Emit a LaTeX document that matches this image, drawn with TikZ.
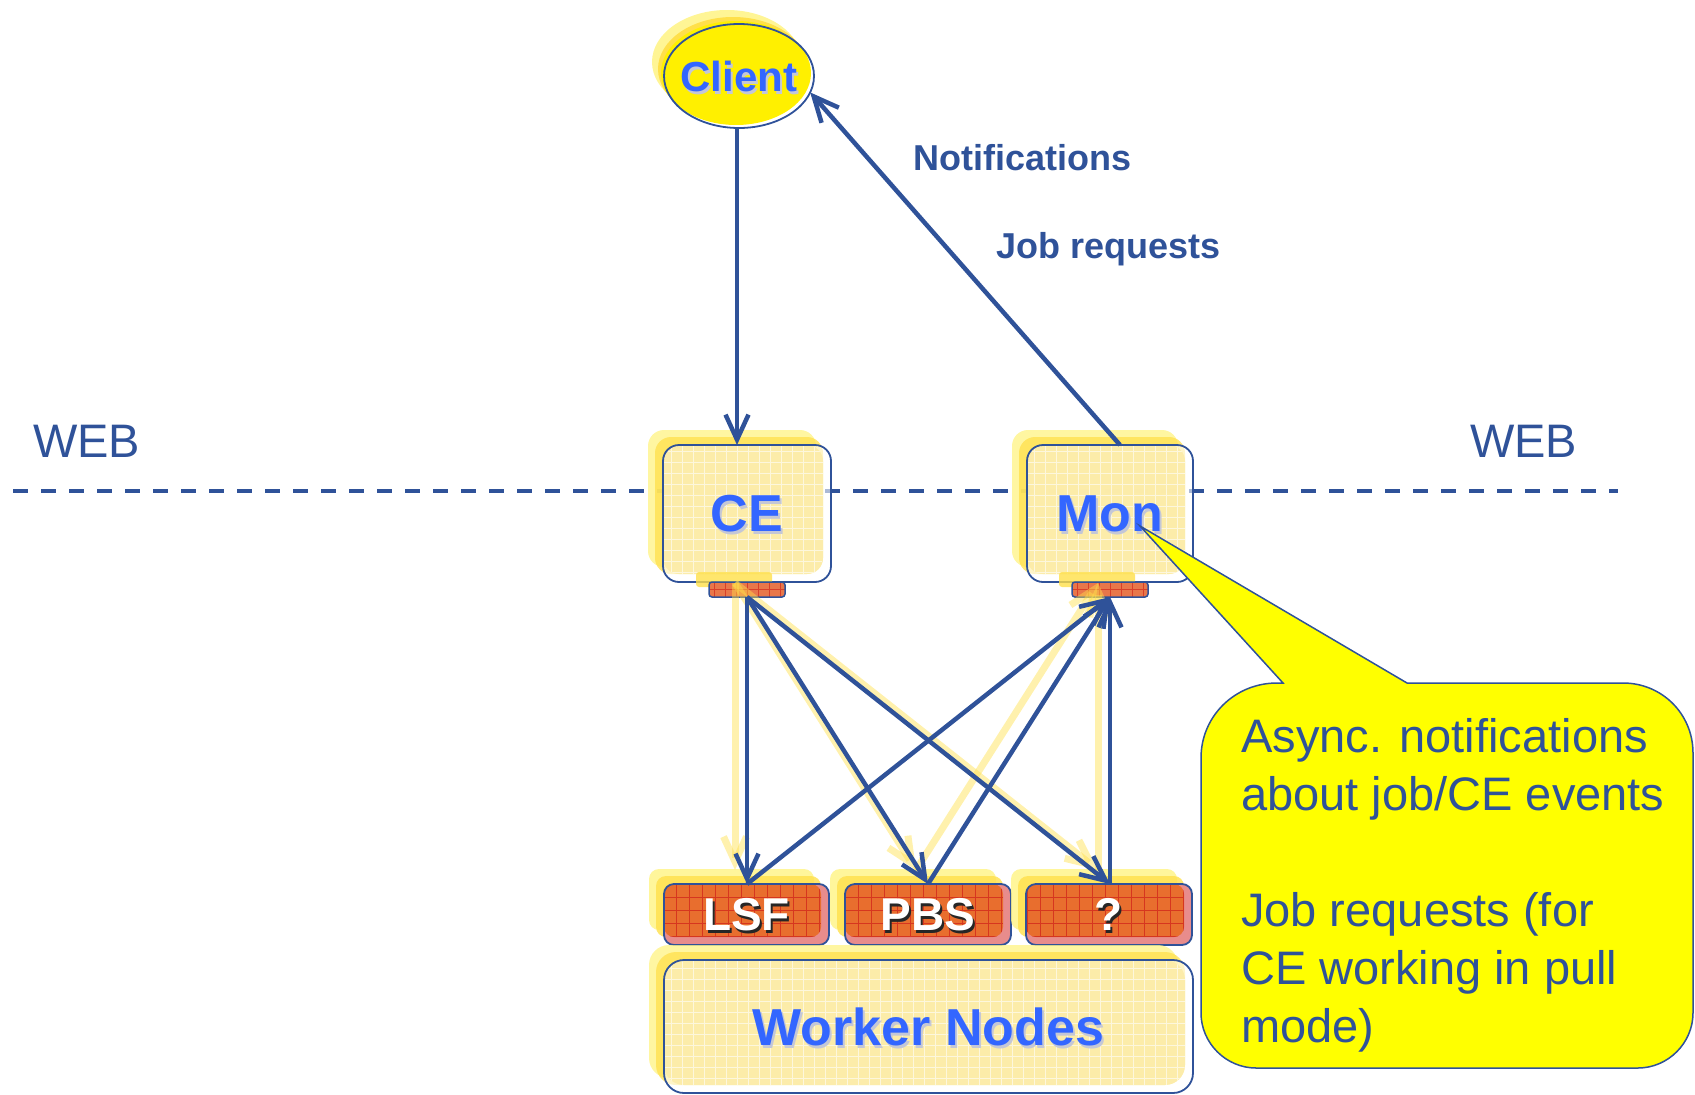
\documentclass[tikz,border=0pt]{standalone}
\usepackage{fontspec}
\setmainfont{Liberation Sans}
\usetikzlibrary{arrows.meta,calc,shapes.geometric}

\definecolor{navy}{HTML}{2F5299}
\definecolor{brightblue}{HTML}{3366FF}
\definecolor{halo}{HTML}{FFF48A}
\definecolor{glow}{HTML}{FFE04A}
\definecolor{pale}{HTML}{FCEBA6}
\definecolor{brick}{HTML}{E86E2E}
\definecolor{brickgrid}{HTML}{D2281C}
\definecolor{brickgap}{HTML}{E88C8C}
\definecolor{calloutfill}{HTML}{FFFF00}
\definecolor{sunny}{HTML}{FFF000}
\definecolor{txtshade}{HTML}{C4C7D6}

\tikzset{
  % layered "glowing" boxes
  pale halo/.style={fill=halo, opacity=.8},
  pale glow/.style={fill=glow, opacity=.75},
  pale gap/.style={fill=white, opacity=.6},
  pale body/.style={fill=pale, opacity=.85,
    path picture={\draw[white, line width=.7pt, opacity=.6]
      (path picture bounding box.south west) grid[step=11pt] (path picture bounding box.north east);}},
  pale frame/.style={draw=navy, line width=1.8pt, inner sep=0pt, outer sep=0pt,
    text=brightblue, font=\fontsize{52}{60}\selectfont\bfseries},
  brick halo/.style={fill=halo, opacity=.85},
  brick glow/.style={fill=glow, opacity=.8},
  brick gap/.style={fill=brickgap},
  brick body/.style={fill=brick,
    path picture={\draw[brickgrid, line width=.8pt, opacity=.8]
      (path picture bounding box.south west) grid[step=13pt] (path picture bounding box.north east);}},
  brick frame/.style={draw=navy, line width=1.8pt, inner sep=0pt, outer sep=0pt,
    text=white, font=\fontsize{46}{54}\selectfont\bfseries},
  pale shade/.style={text=txtshade, font=\fontsize{52}{60}\selectfont\bfseries, inner sep=0pt},
  brick shade/.style={text=black!85, font=\fontsize{46}{54}\selectfont\bfseries, inner sep=0pt},
  % connectors
  flow/.style={draw=navy, line width=4.5pt, -{Straight Barb[length=25pt,width=23pt]}},
  ghost/.style={draw=glow, line width=7pt, opacity=.45,
    -{Straight Barb[length=25pt,width=23pt]}, transform canvas={shift={(-12pt,14pt)}}},
  port/.style={draw=navy, line width=1.5pt, rounded corners=3pt, inner sep=0pt, outer sep=0pt,
    anchor=north west,
    path picture={\draw[brickgrid, line width=.7pt, opacity=.7]
      (path picture bounding box.south west) grid[step=11pt] (path picture bounding box.north east);}},
  tag/.style={text=navy, font=\fontsize{36}{42}\selectfont\bfseries, inner sep=0pt, anchor=base west},
  web/.style={text=navy, font=\fontsize{47}{56}\selectfont, inner sep=0pt, anchor=base west},
}

% #1 name, #2 x1, #3 y1, #4 x2, #5 y2, #6 kind (pale|brick), #7 corner radius, #8 text
\newcommand\glowbox[8]{%
  \fill[#6 halo, rounded corners=#7] (#2-15,#3-15) rectangle (#4-15,#5-15);
  \fill[#6 glow, rounded corners=#7] (#2-8,#3-8) rectangle (#4-8,#5-8);
  \fill[#6 gap, rounded corners=#7] (#2,#3) rectangle (#4,#5);
  \fill[#6 body, rounded corners=#7] (#2,#3) rectangle (#4-8,#5-8);
  \node[#6 shade] (#1-shade) at ({(#2+#4)/2+2},{(#3+#5)/2+3}) {#8};
  \node[#6 frame, rounded corners=#7, anchor=north west,
        minimum width={#4-#2}, minimum height={#5-#3}] (#1) at (#2,#3) {#8};
}

\begin{document}
\begin{tikzpicture}[x=1pt,y=-1pt]
\useasboundingbox (0,0) rectangle (1695,1095);
\clip (0,0) rectangle (1695,1095);

% WEB boundary
\coordinate (webL) at (13,491);
\coordinate (webR) at (1618,491);
\draw[navy, line width=3.5pt, dash pattern=on 15pt off 13pt] (webL) -- (webR);
\node[web] (webleft) at (33,457) {WEB};
\node[web] (webright) at (1470,457) {WEB};

% client
\fill[halo, opacity=.9] (739-12,76-14) ellipse [x radius=75, y radius=52];
\fill[glow] (739-6,76-7) ellipse [x radius=75, y radius=52];
\fill[sunny] (739-3,76-3) ellipse [x radius=75, y radius=52];
\node[ellipse, draw=navy, line width=1.8pt, minimum width=150pt, minimum height=104pt,
      inner sep=0pt, outer sep=0pt] (client) at (739,76) {};
\node[text=txtshade, font=\fontsize{42}{50}\selectfont\bfseries, inner sep=0pt]
  (client-shade) at (741,79) {Client};
\node[text=brightblue, font=\fontsize{42}{50}\selectfont\bfseries, inner sep=0pt]
  (client-label) at (client.center) {Client};

% service boxes
\glowbox{ce}{663}{445}{831}{582}{pale}{16pt}{CE}
\glowbox{mon}{1027}{445}{1193}{582}{pale}{16pt}{Mon}

% ports under the boxes
\fill[glow, opacity=.8, rounded corners=3pt] (709-13,582-10) rectangle (785-13,597-10);
\fill[glow, opacity=.8, rounded corners=3pt] (1072-13,582-10) rectangle (1148-13,597-10);
\node[port, fill=brick!70!brickgap, minimum width=76pt, minimum height=15pt] (ceport) at (709,582) {};
\node[port, fill=brick!70!brickgap, minimum width=76pt, minimum height=15pt] (monport) at (1072,582) {};

% batch systems and worker nodes
\glowbox{lsf}{664}{884}{829}{945}{brick}{10pt}{LSF}
\glowbox{pbs}{845}{884}{1011}{945}{brick}{10pt}{PBS}
\glowbox{q}{1026}{884}{1192}{945}{brick}{10pt}{?}
\glowbox{wn}{664}{960}{1193}{1093}{pale}{20pt}{Worker Nodes}

% end points on the batch systems
\coordinate (lsfin) at (ceport.south |- lsf.north);
\coordinate (pbsin) at (pbs.north);
\coordinate (qin) at (monport.south |- q.north);

% soft yellow trails behind some connectors
\draw[ghost] (ceport.south) -- (lsfin);
\draw[ghost] (ceport.south) -- (pbsin);
\draw[ghost] (ceport.south) -- (qin);
\draw[ghost] (pbsin) -- (monport.south);
\draw[ghost] (qin) -- (monport.south);

% CE submits to the batch systems
\draw[flow] (ceport.south) -- (lsfin);
\draw[flow] (ceport.south) -- (pbsin);
\draw[flow] (ceport.south) -- (qin);
% batch systems report to the monitor
\draw[flow] (lsfin) -- (monport.south);
\draw[flow] (pbsin) -- (monport.south);
\draw[flow] (qin) -- (monport.south);

% client <-> services
\coordinate (clientout) at ($(client.south)+(-2,0)$);
\draw[flow] (clientout) -- (clientout |- ce.north);
\draw[flow] ($(mon.north)+(10,0)$) -- (client.-13);
\node[tag] (notif) at (913,170) {Notifications};
\node[tag] (jobreq) at (996,258) {Job requests};

% callout
\path[fill=calloutfill, draw=navy, line width=1.5pt]
  (1283,683) -- (1140,526) -- (1407,683) -- (1623,683)
  .. controls (1662,683) and (1693,714) .. (1693,753) -- (1693,1013)
  .. controls (1693,1043) and (1668,1068) .. (1638,1068) -- (1256,1068)
  .. controls (1226,1068) and (1201,1043) .. (1201,1013) -- (1201,758)
  .. controls (1201,716) and (1235,683) .. (1277,683) -- cycle;
\node[text=navy, font=\fontsize{47}{58}\selectfont, align=left, inner sep=0pt, anchor=north west]
  (note) at (1241,718)
  {Async. notifications\\about job/CE events\\[58pt]Job requests (for\\CE working in pull\\mode)};
\end{tikzpicture}
\end{document}
